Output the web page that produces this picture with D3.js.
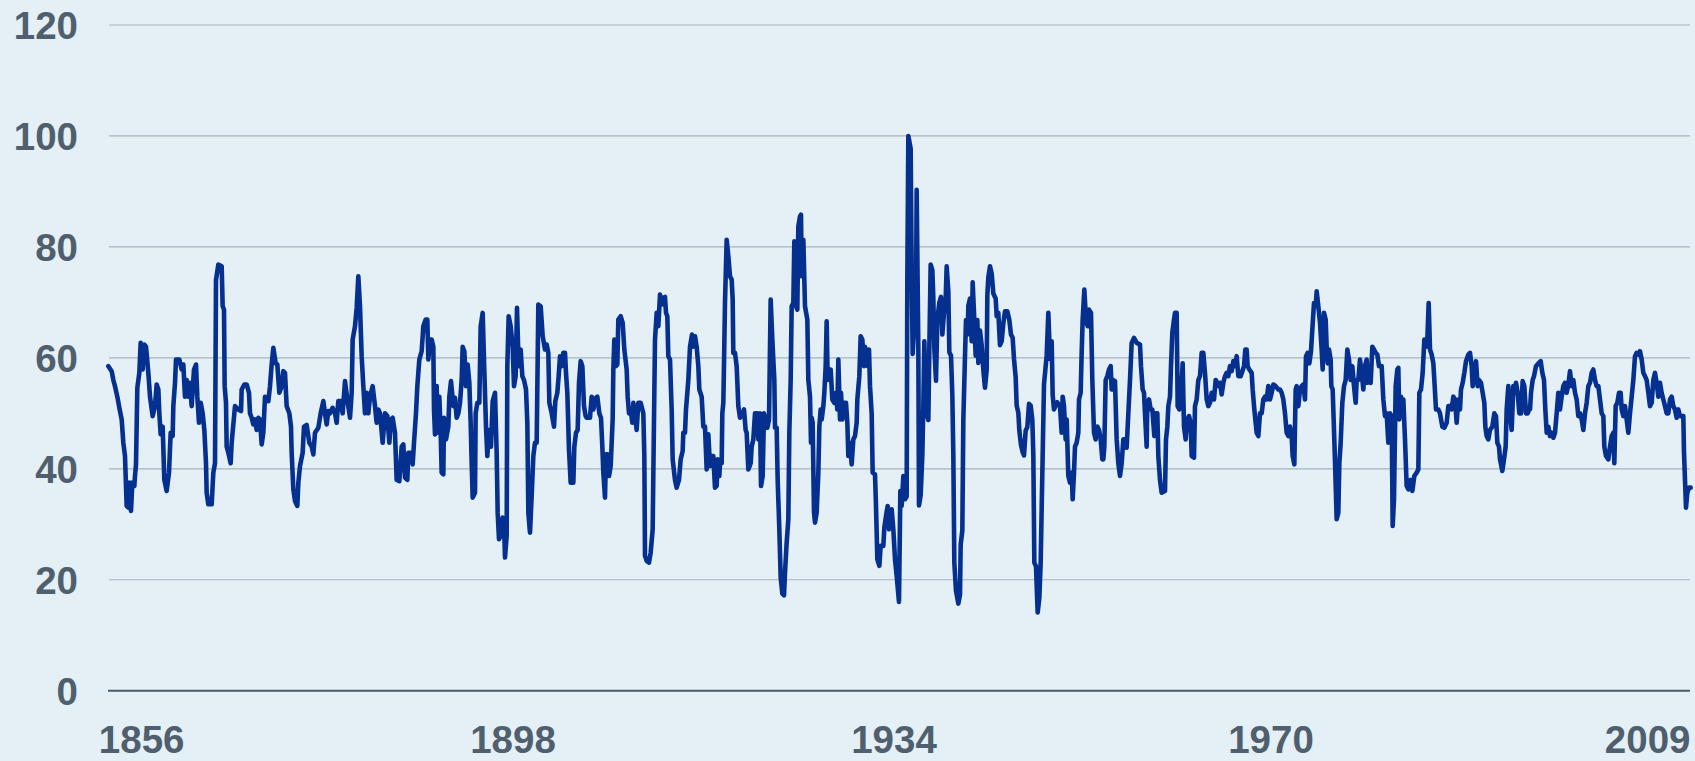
<!DOCTYPE html>
<html>
<head>
  <meta charset="utf-8">
  <style>
    html, body { margin: 0; padding: 0; background: #e4f0f5; }
    svg { display: block; }
    .lbl { font-family: "Liberation Sans", Arial, sans-serif; font-weight: bold; font-size: 38.5px; fill: #4f5f6d; }
  </style>
</head>
<body>
<div id="chart"></div>
<script src="https://d3js.org/d3.v7.min.js"></script>
<script>
// y axis ticks
var yTicks = [0, 20, 40, 60, 80, 100, 120];

// category axis: observation number of each labelled tick, and its label
var tickObs = [101, 1215, 2358, 3489, 4619];
var tickLabels = ["1856", "1898", "1934", "1970", "2009"];
var obsCount = 4749;

var part1 = [[1,58.5],[11,57.6],[16,56],[21,54.9],[28,53],[34,51],[41,48.9],[46,44.7],[51,42.3],[56,33.3],[61,33],[64,37.5],[69,32.4],[73,37.5],[79,36.9],[81,38.7],[84,40.8],[88,54.6],[94,57.3],[98,62.7],[104,57.9],[109,62.4],[114,62],[121,57.3],[126,53],[134,49.5],[141,51.3],[146,55.2],[151,54.3],[154,50],[158,46.2],[164,47.6],[169,38],[176,36],[183,39.3],[188,46.5],[194,45.9],[196,51.3],[201,55.5],[204,59.7],[214,59.7],[221,57.9],[226,58.8],[231,53],[236,56],[241,53],[246,55.5],[251,51.3],[258,57.9],[264,58.8],[268,53],[273,48.3],[278,51.9],[284,50],[289,47],[294,41],[296,35.7],[301,33.6],[311,33.6],[316,39.3],[321,41],[324,74],[331,76.8],[341,76.5],[344,69.3],[348,68.7],[350,54.9],[354,51.9],[356,44],[361,42.9],[368,41],[371,44.7],[381,51.3],[391,50.7],[399,50.4],[401,54.3],[409,55.2],[416,55.2],[423,53.7],[426,50],[431,49.2],[436,48],[441,48.9],[446,47],[451,49.2],
  [456,48.9],[461,44.4],[466,46.5],[471,53],[481,52.2],[486,54.9],[491,58.8],[496,61.8],[503,59],[508,58.8],[514,53.7],[521,54.9],[526,57.6],[531,57.3],[536,51.3],[544,50],[549,47.6],[551,42.9],[556,36.3],[561,34.2],[568,33.3],[571,37.5],[576,40.5],[584,42.9],[588,47.6],[596,47.9],[604,44.7],[611,44],[616,42.6],[621,46.5],[631,47.4],[638,50],[646,52.2],[651,50],[656,48],[661,50.4],[666,50],[674,51],[681,50],[686,48.3],[691,52.2],[699,52.2],[704,50],[711,55.8],[718,52.5],[726,49.2],[731,53.7],[734,63.3],[741,65.7],[746,69],[751,74.7],[756,69.3],[761,60.3],[766,54.9],[771,50],[776,53.7],[781,50],[786,53],[794,54.9],[801,51.3],[806,48.3],[811,50.7],[816,50],[824,44.7],[831,50],[838,49.5],[844,44.7],[849,48.9],[854,49.2],[861,46.5],[866,38],[874,37.8],[881,44],[886,44.4],[891,38.4],[898,38],[901,42.9],[908,42.9],[914,40.8],[918,44.7],[924,50],[928,54.9],[934,59.7],[941,61.2],[946,65.7],[953,66.9]];

var part2 = [[958,66.9],[961,59.7],[966,63.3],[971,63.3],[976,62],[978,50.7],[981,46.2],[986,54.9],[989,46.5],[994,53],[998,46.5],[1001,39.3],[1006,39],[1008,49.2],[1014,45.3],[1021,47.6],[1024,53],[1029,55.8],[1036,51.3],[1041,52.8],[1046,49.2],[1051,50],[1056,51.9],[1061,56],[1064,62],[1069,61.2],[1074,54.9],[1079,58.8],[1084,55.5],[1088,48.3],[1091,41],[1094,34.8],[1101,35.7],[1103,50],[1108,51.9],[1114,51.9],[1118,65.7],[1124,68.1],[1128,59.7],[1134,47.6],[1138,42.3],[1143,47],[1149,44],[1154,52.2],[1161,53.7],[1166,42.9],[1169,32.1],[1173,27.3],[1178,27.9],[1184,31.2],[1188,30.3],[1191,24],[1196,27.9],[1198,58.5],[1202,67.5],[1208,65.7],[1214,62],[1218,54.9],[1223,56.7],[1227,69],[1232,58.5],[1238,61.5],[1243,56.7],[1248,56],[1254,54.3],[1258,48.3],[1261,32.1],[1266,28.5],[1271,35.1],[1276,42.3],[1281,44.7],[1286,44.7],[1291,69.6],[1298,69.3],[1304,63.9],[1311,61.5],[1316,62.4],[1321,60.9],[1324,51.9],[1331,50],[1338,47.6],[1342,52.2],[1348,53.7],[1352,56.7],[1356,60.3],[1361,58.5],[1366,60.9],[1371,60.9],[1374,57.3],[1378,53.7],[1383,43.5],[1388,37.5],[1396,37.5],[1399,44],[1404,46.5],[1409,47],[1413,55.5],[1418,59.4],[1423,58.5],[1428,51.3],[1433,49.5],
  [1436,49.2],[1446,49.2],[1451,53],[1456,50.7],[1463,52.8],[1468,53],[1474,50],[1479,49.2],[1483,44],[1486,39.3],[1491,34.8],[1494,42.6],[1499,42.6],[1503,38.7],[1508,40.5],[1514,48.9],[1516,57.9],[1519,63.3],[1524,58.5],[1528,58.8],[1531,66.9],[1538,67.5],[1544,66.3],[1549,61.5],[1556,57.9],[1559,53],[1563,50],[1568,50.7],[1573,48.3],[1576,51.9],[1581,49.5],[1586,47],[1591,51.9],[1598,51.9],[1606,50],[1609,42.3],[1611,24.3],[1616,23.4],[1623,23.1],[1628,24.9],[1634,29.1],[1638,48.9],[1641,63.3],[1646,68.1],[1651,65.7],[1656,71.4],[1661,69.6],[1666,70.8],[1671,71],[1674,68.1],[1678,67.5],[1681,60.3],[1686,59.7],[1691,50.7],[1694,41.7],[1701,38],[1706,36.6],[1713,38],[1718,41.7],[1724,43.2],[1726,46.5],[1731,46.5],[1734,50.7],[1738,53.7],[1741,56],[1746,62],[1752,64.2],[1756,62],[1761,63.9],[1766,62],[1771,58.5],[1774,54.3],[1781,53],[1786,47.6],[1791,47.6],[1796,39.9],[1801,46.2],[1806,40.5],[1811,42.3],[1816,42.3],[1821,36.6],[1826,36.9],[1829,41.7],[1834,38.7],[1836,41],[1841,41],[1843,50],[1846,51.9],[1848,59],[1851,70],[1856,81.3],[1861,78.3],[1866,74.7],[1871,74.1],[1874,70.5],[1876,60.9],[1881,60.9],[1886,58.5],[1891,51.3],[1896,49.2],[1903,49.8],[1908,50.7],[1913,47]];

var part3 = [[1916,46.5],[1921,39.9],[1928,41],[1931,44],[1936,45.3],[1941,50],[1948,50],[1951,45.3],[1956,50],[1959,36.9],[1964,38.7],[1968,50],[1973,48.9],[1978,47.4],[1983,48.9],[1988,70.5],[1993,63.3],[1999,56],[2001,47.4],[2006,47.4],[2009,38],[2014,29.1],[2018,20.4],[2023,17.5],[2028,17.2],[2031,21.3],[2036,26.7],[2041,30.9],[2044,46.5],[2048,56],[2051,69.3],[2056,69.9],[2059,81],[2064,69.3],[2068,68.7],[2071,83.7],[2076,85.5],[2079,85.8],[2081,74.7],[2086,81.3],[2089,74.1],[2091,69.3],[2098,66.9],[2101,56],[2106,53],[2109,44.7],[2111,49.2],[2114,48.3],[2118,32.1],[2121,30.3],[2126,32.1],[2131,39.3],[2134,47.6],[2138,50.7],[2141,48.9],[2146,51.3],[2149,53.7],[2153,58.5],[2156,66.6],[2159,56],[2163,57.9],[2168,57.9],[2173,52.5],[2179,51.9],[2184,53.7],[2188,50.7],[2191,59.7],[2196,48.9],[2199,53.7],[2203,48.9],[2208,51.9],[2214,51.9],[2218,48.3],[2221,42.3],[2226,44.7],[2231,40.8],[2236,45.3],[2241,45.9],[2246,48.3],[2248,52.5],[2254,56.7],[2258,63.9],[2263,63.3],[2268,58.5],[2271,62],[2276,60.9],[2279,58.5],[2283,61.5],[2286,54.9],[2291,50],[2294,39.3],[2301,39],[2304,33.3],[2308,23.7],[2314,22.5],[2318,26.1],[2326,26.1],[2329,29.4],[2334,31.5],[2339,33.3],[2343,29.1],[2348,29.7],[2351,32.7],[2356,29.1],[2361,23.7],[2366,20.7],[2373,16],[2377,36],[2381,33.3],[2386,38.7],[2391,34.5],[2396,35],[2398,74.5],[2401,100],
  [2408,97.7],[2411,75.8],[2414,60.7],[2419,66.2],[2424,69.4],[2426,90.3],[2431,61.7],[2433,33.4],[2438,35.3],[2443,42.4],[2446,51.4],[2449,63],[2454,50.7],[2461,48.8],[2464,61.7],[2468,76.8],[2473,75.8],[2476,70.7],[2479,61.7],[2484,55.9],[2488,66.8],[2494,70],[2499,71],[2503,64.2],[2508,68.1],[2513,70.7],[2516,76.5],[2521,72],[2524,61],[2529,60.4],[2533,53.3],[2536,42.4],[2539,23.1],[2544,18],[2551,15.7],[2556,17.3],[2558,26.3],[2563,28.9],[2566,48.8],[2571,60.4],[2574,66.8],[2579,64.2],[2581,69.4],[2586,70.7],[2591,63],[2594,73.6],[2598,68.1],[2603,60.4],[2608,66.8],[2611,59.1],[2616,64.9],[2621,62.3],[2626,57.8],[2631,54.6],[2636,57.8],[2638,71.3],[2641,74.5],[2646,76.5],[2651,75.2],[2656,71.6],[2663,70.7],[2666,67.5],[2671,68.1],[2676,62.3],[2681,63],[2686,66.2],[2691,68.4],[2698,68.4],[2704,66.8],[2709,64.2],[2714,63.6],[2718,59.8],[2723,56.5],[2726,51.4],[2731,50.1],[2734,46.9],[2739,44.3],[2744,43],[2748,42.4],[2753,46.9],[2758,47.5],[2763,51.7],[2768,51.4],[2773,48.8],[2776,42.4],[2779,23.1],[2784,22.4],[2789,14.1],[2794,16.7],[2798,23.1],[2804,42.4],[2808,55.2],[2812,57.8],[2816,60.4],[2821,68.1],[2826,59.8],[2831,63],[2834,53.3],[2838,50.7],[2843,51.4],[2848,52],[2853,51.4]];

var part4 = [[2856,51.3],[2861,46.5],[2864,53],[2868,51.3],[2873,45.3],[2876,48.9],[2881,38.7],[2886,37.5],[2891,39.3],[2894,34.5],[2898,39.3],[2901,44],[2906,44.7],[2911,46.5],[2913,52.5],[2918,53.7],[2921,60.9],[2924,66.9],[2929,72.3],[2934,66.9],[2939,65.7],[2943,68.7],[2949,68.1],[2953,56],[2958,46.5],[2963,45.3],[2968,47.6],[2973,47],[2978,45.3],[2983,41.7],[2986,41.7],[2989,44],[2993,56],[2998,56.7],[3003,57.9],[3008,58.5],[3011,54.3],[3016,56],[3021,55.8],[3026,45.3],[3031,41],[3036,38.7],[3041,41],[3046,45.3],[3051,45.3],[3056,43.8],[3061,50],[3066,56],[3071,62.7],[3078,63.6],[3086,62.7],[3096,62.4],[3099,58.5],[3104,54.3],[3108,53.7],[3111,50],[3116,44],[3118,51.9],[3123,52.5],[3128,50.7],[3133,50.7],[3139,45.9],[3143,50],[3148,50],[3151,42.3],[3156,38],[3161,35.7],[3171,36],[3174,45.3],[3178,47.6],[3181,51.3],[3186,53],[3189,58.5],[3193,64.5],[3198,66.9],[3201,68.1],[3206,68.1],[3209,51.3],[3214,50.7],[3219,53],[3224,59],[3228,47.6],[3233,45.3],[3238,48.9],[3243,49.5],[3248,48.3],[3251,42.3],[3258,42],[3261,51.3],[3266,52.5],[3271,56],[3276,56.7],[3281,60.9],[3286,60.9],[3291,57.3],[3296,52.5],[3301,51.3],[3306,51.9],[3311,53.7],[3318,52.5],[3323,56],[3328,55.5],[3333,54.9],
  [3336,55.5],[3341,53.4],[3346,55.5],[3351,56.7],[3356,57.3],[3361,56.7],[3366,58.5],[3371,57.6],[3376,59.4],[3381,58.5],[3386,60.3],[3391,56.7],[3398,56.7],[3403,57.6],[3408,58.5],[3412,61.5],[3416,61.5],[3419,58.5],[3424,57.9],[3431,57.3],[3434,54.3],[3439,50.7],[3446,46.5],[3451,45.9],[3456,50],[3461,50],[3466,52.5],[3471,53],[3476,52.5],[3481,54.9],[3486,52.5],[3491,53.7],[3496,55.2],[3503,54.9],[3511,54.3],[3516,54.3],[3521,53.7],[3526,52.5],[3531,50],[3536,46.5],[3541,45.9],[3546,47.6],[3551,45.9],[3554,42.3],[3559,40.8],[3563,54.3],[3566,54.9],[3571,51.3],[3576,54.3],[3581,54.9],[3586,55.2],[3591,52.5],[3594,60.3],[3599,60.9],[3604,59],[3609,61.2],[3613,65.1],[3618,69.9],[3623,69.3],[3626,72],[3631,69.3],[3636,66.3],[3641,61.5],[3644,57.9],[3648,68.1],[3653,66.9],[3656,62],[3659,59],[3663,61.5],[3668,59.7],[3670,54.9],[3674,54.3],[3678,47],[3682,39.3],[3686,30.9],[3691,32.1],[3694,41],[3698,44.7],[3703,51.9],[3708,54.9],[3713,56],[3718,61.5],[3723,59.7],[3728,56],[3733,58.5],[3738,54.9],[3743,51.9],[3746,56],[3751,56],[3756,59.7],[3761,57.3],[3766,54.3],[3771,58.5],[3776,59.7],[3779,55.5],[3784,56],[3788,55.5],[3793,62],[3798,61.5],[3803,60.9],[3808,60.6],[3813,58.5]];

var part5 = [[3821,58.5],[3826,52.5],[3831,49.5],[3836,50],[3841,44.7],[3846,50],[3851,49.5],[3854,29.7],[3858,34.5],[3863,54.9],[3868,57.9],[3871,58.2],[3874,48.9],[3879,53],[3883,50],[3886,52.5],[3891,45.3],[3896,36.9],[3901,36.3],[3908,38],[3913,36],[3919,38.7],[3926,39.3],[3931,39.9],[3934,53.7],[3939,54.3],[3944,57.3],[3949,63.3],[3954,62],[3958,63.3],[3962,69.9],[3966,61.5],[3971,60.6],[3976,59],[3979,56],[3984,50.7],[3991,50.7],[3996,50],[4003,47.6],[4009,47.4],[4016,48.3],[4021,51.3],[4026,51.3],[4031,50.7],[4036,53],[4041,52.5],[4046,48.3],[4051,52.5],[4056,50.7],[4059,54.3],[4064,55.5],[4069,57.3],[4074,59.4],[4081,60.6],[4086,60.9],[4091,58.5],[4094,54.9],[4099,57.3],[4104,59.4],[4109,54.9],[4113,56],[4119,55.5],[4124,53.7],[4129,51.9],[4132,47.6],[4136,45.9],[4141,45.3],[4146,47],[4153,47.6],[4159,50],[4164,49.5],[4168,44.7],[4173,44],[4176,41.7],[4183,39.6],[4188,41.7],[4193,44],[4196,50.7],[4201,54.9],[4206,50],[4211,47],[4216,54.9],[4221,53.7],[4224,55.5],[4229,53.7],[4234,50],[4239,50],[4244,55.8],[4249,54.9],[4254,50],[4259,50],[4264,50.7],
  [4266,50.7],[4269,53.7],[4274,56],[4278,56.7],[4284,58.5],[4291,59],[4298,59.4],[4303,57.3],[4308,56],[4312,50.7],[4316,46.5],[4321,47.6],[4326,45.9],[4331,46.5],[4336,45.6],[4341,46.5],[4346,50],[4351,53.7],[4356,50.7],[4361,53],[4366,54.9],[4371,55.5],[4376,53.7],[4381,55.2],[4386,57.6],[4391,54.9],[4396,56],[4401,53.7],[4406,52.5],[4411,49.5],[4416,50],[4421,48.9],[4426,47],[4431,50],[4436,51.9],[4441,54.9],[4446,55.5],[4451,57.3],[4456,57.9],[4461,56],[4466,54.9],[4471,54.9],[4476,52.5],[4481,50],[4486,49.5],[4489,44],[4494,42.3],[4501,41.7],[4506,44],[4511,45.9],[4516,46.5],[4519,41],[4523,51.3],[4528,51.9],[4533,53.7],[4538,53.7],[4541,50.7],[4546,49.5],[4551,51.3],[4556,48.9],[4561,46.5],[4566,50],[4571,53],[4576,56],[4581,60.3],[4586,60.9],[4591,60.6],[4596,61.2],[4601,59.7],[4606,57.3],[4611,56.7],[4616,56],[4621,53.7],[4626,51.3],[4631,51.9],[4636,56],[4641,57.3],[4646,55.5],[4651,53],[4656,55.5],[4661,53.7],[4666,52.5],[4671,51.3],[4676,50],[4681,50],[4686,52.5],[4691,53],[4696,51.3],[4701,50.7],[4706,49.2],[4711,50.7],[4716,49.5],[4721,49.5],[4726,49.5],[4728,42.9],[4731,38],[4734,33],[4738,35.7],[4743,36.6],[4748,36.6]];

var series = part1.concat(part2, part3, part4, part5);

var W = 1695, H = 761;
var margin = {top: 25, right: 4, bottom: 70.3, left: 108};

var svg = d3.select("#chart").append("svg")
    .attr("width", W)
    .attr("height", H);

svg.append("rect")
    .attr("width", W)
    .attr("height", H)
    .attr("fill", "#e4f0f5");

var x = d3.scaleLinear()
    .domain([0, obsCount])
    .range([margin.left, W - margin.right]);

var y = d3.scaleLinear()
    .domain([0, 120])
    .range([H - margin.bottom, margin.top]);

// horizontal grid
svg.append("g")
    .selectAll("line")
    .data(yTicks.filter(d => d > 0))
    .enter()
    .append("line")
    .attr("x1", margin.left + 1)
    .attr("x2", W - 5)
    .attr("y1", d => y(d))
    .attr("y2", d => y(d))
    .attr("stroke", "#a9b4bb")
    .attr("stroke-width", 1.2);

// y labels
svg.append("g")
    .selectAll("text")
    .data(yTicks)
    .enter()
    .append("text")
    .attr("class", "lbl")
    .attr("x", 78)
    .attr("y", d => y(d))
    .attr("dy", "0.36em")
    .attr("text-anchor", "end")
    .text(d => d);

// x labels
svg.append("g")
    .selectAll("text")
    .data(tickObs)
    .enter()
    .append("text")
    .attr("class", "lbl")
    .attr("x", d => x(d))
    .attr("y", 753)
    .attr("text-anchor", "middle")
    .text((d, i) => tickLabels[i]);

var line = d3.line()
    .x(d => x(d[0]))
    .y(d => y(d[1]));

svg.append("path")
    .datum(series)
    .attr("d", line)
    .attr("fill", "none")
    .attr("stroke", "#05308f")
    .attr("stroke-width", 4.6)
    .attr("stroke-linejoin", "round")
    .attr("stroke-linecap", "round");

// zero baseline on top
svg.append("line")
    .attr("x1", margin.left)
    .attr("x2", W - 5)
    .attr("y1", y(0))
    .attr("y2", y(0))
    .attr("stroke", "#4b5b69")
    .attr("stroke-width", 2);
</script>
</body>
</html>
